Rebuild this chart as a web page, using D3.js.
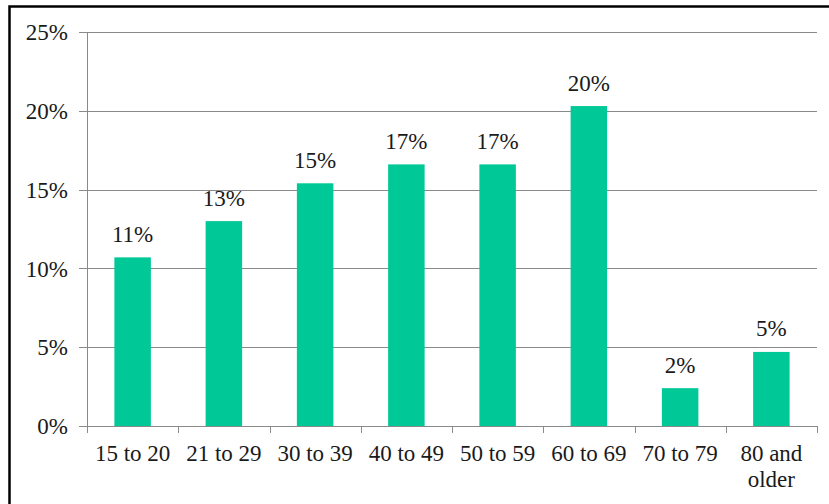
<!DOCTYPE html>
<html>
<head>
<meta charset="utf-8">
<script src="https://cdn.jsdelivr.net/npm/d3@7"></script>
<style>
	body { margin: 0; background: #fff; }
	svg text { font-family: "Liberation Serif", "Times New Roman", serif; fill: #1a1a1a; }
</style>
</head>
<body>
<div id="chart"></div>
<script>
var categories = ["15 to 20", "21 to 29", "30 to 39", "40 to 49", "50 to 59", "60 to 69", "70 to 79", "80 and|older"];
var shares = [0.107, 0.130, 0.154, 0.166, 0.166, 0.203, 0.024, 0.047];
var yTicks = [0, 0.05, 0.10, 0.15, 0.20, 0.25];

var width = 829, height = 504;
var margins = { left: 87, right: 12, top: 32, bottom: 78 };

var svg = d3.select("#chart")
	.append("svg")
	.attr("width", width)
	.attr("height", height);

// outer frame (only top and left edges show in the picture)
svg.append("rect")
	.attr("x", 9.5)
	.attr("y", 6.5)
	.attr("width", width + 20)
	.attr("height", height + 20)
	.attr("fill", "none")
	.attr("stroke", "#000")
	.attr("stroke-width", 2.5);

var x = d3.scaleBand()
	.domain(categories)
	.range([margins.left, 817])
	.padding(0);

var y = d3.scaleLinear()
	.domain([0, 0.25])
	.range([426, margins.top]);

var fmt = d3.format(".0%");

// gridlines with little ticks to the left of the axis
svg.append("g")
	.selectAll("line")
	.data(yTicks)
	.enter()
	.append("line")
	.attr("x1", margins.left - 8)
	.attr("x2", 817)
	.attr("y1", function(d) { return Math.round(y(d)) + 0.5; })
	.attr("y2", function(d) { return Math.round(y(d)) + 0.5; })
	.attr("stroke", "#8a8a8a")
	.attr("stroke-width", 1);

svg.append("g")
	.selectAll("text")
	.data(yTicks)
	.enter()
	.append("text")
	.attr("x", 68)
	.attr("y", function(d) { return y(d); })
	.attr("dy", "0.36em")
	.attr("text-anchor", "end")
	.style("font-size", "23px")
	.text(fmt);

// y axis line
svg.append("line")
	.attr("x1", margins.left + 0.5)
	.attr("x2", margins.left + 0.5)
	.attr("y1", y(0.25))
	.attr("y2", y(0))
	.attr("stroke", "#8a8a8a");

// bars
var barW = x.bandwidth() * 0.4;
svg.append("g")
	.selectAll("rect")
	.data(shares)
	.enter()
	.append("rect")
	.attr("x", function(d, i) { return x(categories[i]) + (x.bandwidth() - barW) / 2; })
	.attr("y", function(d) { return y(d); })
	.attr("width", barW)
	.attr("height", function(d) { return y(0) - y(d); })
	.attr("fill", "#00c896");

// value labels
svg.append("g")
	.selectAll("text")
	.data(shares)
	.enter()
	.append("text")
	.attr("x", function(d, i) { return x(categories[i]) + x.bandwidth() / 2; })
	.attr("y", function(d) { return y(d) - 15.5; })
	.attr("text-anchor", "middle")
	.style("font-size", "23px")
	.text(fmt);

// x axis with ticks at band edges
var edges = categories.map(function(c) { return x(c); }).concat([x.range()[1]]);
svg.append("line")
	.attr("x1", margins.left)
	.attr("x2", 817)
	.attr("y1", Math.round(y(0)) + 0.5)
	.attr("y2", Math.round(y(0)) + 0.5)
	.attr("stroke", "#8a8a8a");
svg.append("g")
	.selectAll("line")
	.data(edges)
	.enter()
	.append("line")
	.attr("x1", function(d) { return Math.round(d) + 0.5; })
	.attr("x2", function(d) { return Math.round(d) + 0.5; })
	.attr("y1", Math.round(y(0)))
	.attr("y2", Math.round(y(0)) + 7)
	.attr("stroke", "#8a8a8a");

var xl = svg.append("g")
	.selectAll("text")
	.data(categories)
	.enter()
	.append("text")
	.attr("x", function(d) { return x(d) + x.bandwidth() / 2; })
	.attr("y", 461)
	.attr("text-anchor", "middle")
	.style("font-size", "23px");
xl.each(function(d) {
	var parts = d.split("|");
	var t = d3.select(this);
	parts.forEach(function(p, i) {
		t.append("tspan")
			.attr("x", t.attr("x"))
			.attr("dy", i === 0 ? 0 : 26)
			.text(p);
	});
});
</script>
</body>
</html>
